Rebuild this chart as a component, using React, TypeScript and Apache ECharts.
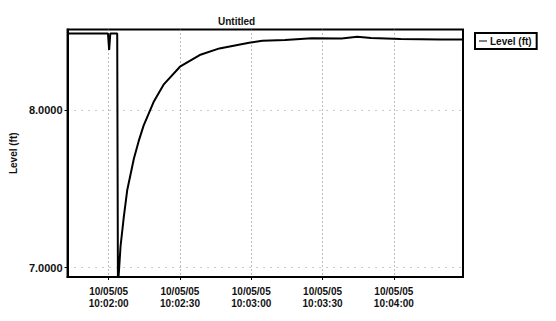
import React, { useEffect, useRef } from "react";
import * as echarts from "echarts";

// time in seconds after 10:00:00 on 10/05/05
const times = [
  102.7, 110, 118, 119.7, 120.2, 120.7, 122, 123.6, 123.9,
  124.3, 125.0, 126.4, 127.8, 130.6, 132.6, 134.7, 138.9, 143.1,
  150.0, 158.3, 166.6, 179.1, 184.7, 194.2, 205.5, 218.0, 224.6,
  230.4, 242.9, 259.5, 269.1,
];
const levels = [
  8.485, 8.485, 8.485, 8.485, 8.38, 8.485, 8.485, 8.485, 6.9,
  6.97, 7.135, 7.325, 7.49, 7.69, 7.80, 7.90, 8.05, 8.16,
  8.274, 8.348, 8.39, 8.426, 8.439, 8.443, 8.454, 8.453, 8.464,
  8.456, 8.449, 8.446, 8.446,
];
const xTicks = [120, 150, 180, 210, 240];
const yTicks = [7, 8];
const dateLabel = "10/05/05";
const seriesName = "Level (ft)";
const titleText = "Untitled";

function fmtTime(v: number) {
  const total = Math.round(v);
  const m = Math.floor(total / 60);
  const s = total % 60;
  const pad = (n: number) => (n < 10 ? "0" + n : "" + n);
  return "10:" + pad(m) + ":" + pad(s);
}

export default function App() {
  const ref = useRef<HTMLDivElement>(null);
  useEffect(() => {
    if (!ref.current) return;
    const chart = echarts.init(ref.current, undefined, { renderer: "svg" });
    const font = "Liberation Sans, Arial, sans-serif";
    chart.setOption({
      animation: false,
      backgroundColor: "#ffffff",
      title: {
        text: titleText,
        left: 213,
        top: 11,
        textStyle: { fontSize: 10, fontWeight: "bold", color: "#111", fontFamily: font },
      },
      legend: {
        left: 475,
        top: 33,
        orient: "vertical",
        borderColor: "#000",
        borderWidth: 2,
        padding: [3, 5, 3, 4],
        itemWidth: 8,
        itemHeight: 10,
        itemGap: 4,
        textStyle: { fontSize: 10, fontWeight: "bold", color: "#111", fontFamily: font, padding: [0, 0, 0, -2] },
        data: [{ name: seriesName, icon: "path://M0,4.5 L8,4.5 L8,5.5 L0,5.5 Z" }],
      },
      grid: {
        left: 63,
        right: 93,
        top: 29.5,
        bottom: 44,
        show: true,
        borderColor: "#000",
        borderWidth: 2,
        backgroundColor: "#fff",
      },
      xAxis: {
        type: "value",
        min: 102.7,
        max: 269.1,
        axisLine: { show: true, lineStyle: { color: "#000", width: 2 } },
        axisTick: { show: true, length: 3, customValues: xTicks, lineStyle: { color: "#000" } },
        axisLabel: {
          customValues: xTicks,
          formatter: (v: number) => dateLabel + "\n" + fmtTime(v),
          fontSize: 10,
          fontWeight: "bold",
          color: "#111",
          fontFamily: font,
          lineHeight: 12,
          margin: 8,
        },
        splitLine: { show: true, lineStyle: { color: "#777", type: [1, 3], width: 1 } },
      },
      yAxis: {
        type: "value",
        min: 6.94,
        max: 8.51,
        name: seriesName,
        nameLocation: "middle",
        nameGap: 46,
        nameRotate: 90,
        nameTextStyle: { fontSize: 10, fontWeight: "bold", color: "#111", fontFamily: font },
        axisLine: { show: true, lineStyle: { color: "#000", width: 2 } },
        axisTick: { show: true, length: 3, customValues: yTicks, lineStyle: { color: "#000" } },
        axisLabel: {
          customValues: yTicks,
          formatter: (v: number) => v.toFixed(4),
          fontSize: 11,
          fontWeight: "bold",
          color: "#111",
          fontFamily: font,
          margin: 5,
        },
        splitLine: { show: true, lineStyle: { color: "#999", type: [1, 6], width: 1 } },
      },
      series: [
        {
          name: seriesName,
          type: "line",
          symbol: "none",
          clip: true,
          data: times.map((t, i) => [t, levels[i]]),
          lineStyle: { color: "#000", width: 2 },
          itemStyle: { color: "#000" },
        },
      ],
    });
    return () => chart.dispose();
  }, []);
  return (
    <div
      ref={ref}
      style={{ position: "fixed", left: 0, top: 0, width: 556, height: 321 }}
    />
  );
}
